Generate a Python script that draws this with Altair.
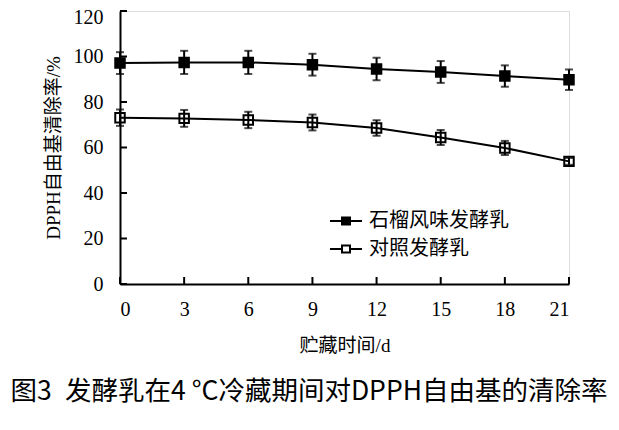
import altair as alt
import pandas as pd

days = [0, 3, 6, 9, 12, 15, 18, 21]
series_names = ["石榴风味发酵乳", "对照发酵乳"]
pome = [97.1, 97.4, 97.4, 96.4, 94.5, 93.2, 91.4, 89.8]
pome_err = [4.8, 5.1, 5.1, 4.8, 4.9, 4.8, 4.7, 4.5]
ctrl = [73.1, 72.8, 72.1, 71.0, 68.6, 64.4, 59.8, 53.9]
ctrl_err = [3.6, 3.7, 3.6, 3.5, 3.4, 3.3, 3.1, 1.5]
y_ticks = [0, 20, 40, 60, 80, 100, 120]
x_ticks = [0, 3, 6, 9, 12, 15, 18, 21]

rows = []
for name, vals, errs in [(series_names[0], pome, pome_err), (series_names[1], ctrl, ctrl_err)]:
    for d, v, e in zip(days, vals, errs):
        rows.append({"day": d, "value": v, "lo": v - e, "hi": v + e, "series": name})
df = pd.DataFrame(rows)

W, H = 449, 273
SERIF = "Liberation Serif, Noto Sans CJK SC"

xs = alt.Scale(domain=[0, 21], nice=False, zero=False)
ys = alt.Scale(domain=[0, 120], nice=False)

base = alt.Chart(df)

x_enc = alt.X("day:Q", scale=xs, axis=alt.Axis(
    values=x_ticks, title="贮藏时间/d", ticks=False, tickSize=0, grid=False,
    labelFont="Liberation Serif", labelFontSize=20, labelPadding=15,
    titleFont=SERIF, titleFontSize=19, titleFontWeight="normal", titlePadding=17,
    domainColor="black", domainWidth=2, labelColor="black", titleColor="black"))
y_enc = alt.Y("value:Q", scale=ys, axis=alt.Axis(
    values=y_ticks, title="DPPH自由基清除率/%", ticks=False, tickSize=0, grid=False,
    labelFont="Liberation Serif", labelFontSize=20, labelPadding=17,
    labelOffset={"condition": {"test": "datum.value == 120", "value": 6}, "value": 0},
    titleFont=SERIF, titleFontSize=19, titleFontWeight="normal", titlePadding=10,
    domainColor="black", domainWidth=2, labelColor="black", titleColor="black"))

line = base.mark_line(color="black", strokeWidth=2).encode(x=x_enc, y=y_enc, detail="series:N")

err = base.mark_rule(color="black", strokeWidth=2).encode(
    x="day:Q", y="lo:Q", y2="hi:Q")
cap_hi = base.mark_tick(color="black", orient="horizontal", size=8, thickness=2).encode(
    x="day:Q", y="hi:Q")
cap_lo = base.mark_tick(color="black", orient="horizontal", size=8, thickness=2).encode(
    x="day:Q", y="lo:Q")

legend_path = "M-4,0H-1M1,0H4M-1,-0.9H1V0.9H-1Z"
pts = base.mark_point(shape="square", size=90, filled=True, stroke="black", strokeWidth=2, opacity=1).encode(
    x="day:Q", y="value:Q",
    fill=alt.Fill("series:N", sort=series_names,
                  scale=alt.Scale(domain=series_names, range=["black", "transparent"]),
                  legend=alt.Legend(
                      title=None, orient="none", legendX=216, legendY=200,
                      symbolType=legend_path, symbolSize=64,
                      symbolStrokeColor="black", symbolStrokeWidth=2,
                      labelFont="Noto Sans CJK SC", labelFontSize=20, labelColor="black",
                      labelOffset=13, rowPadding=8, padding=0)))

ytick_df = pd.DataFrame({"t": y_ticks})
xtick_df = pd.DataFrame({"t": x_ticks})
yt = alt.Chart(ytick_df).mark_rule(color="black", strokeWidth=2).encode(
    y=alt.Y("t:Q", scale=ys), x=alt.value(0), x2=alt.value(7))
xt = alt.Chart(xtick_df).mark_rule(color="black", strokeWidth=2).encode(
    x=alt.X("t:Q", scale=xs), y=alt.value(H), y2=alt.value(H - 7))

chart = alt.layer(line, err, cap_hi, cap_lo, pts, yt, xt).properties(
    width=W, height=H,
    autosize=alt.AutoSizeParams(type="none"),
    padding={"left": 112, "top": 3, "right": 40, "bottom": 135},
    title=alt.TitleParams(
        text="图3\u2002发酵乳在4 °C冷藏期间对DPPH自由基的清除率",
        orient="bottom", anchor="middle", frame="group", dx=-35.5, offset=24,
        font="Noto Sans CJK SC", fontSize=26.5, fontWeight="normal", color="black",
        baseline="top"),
).configure_view(stroke=None).configure(background="white")

chart.save("out.html", embed_options={"renderer": "svg", "actions": False})
